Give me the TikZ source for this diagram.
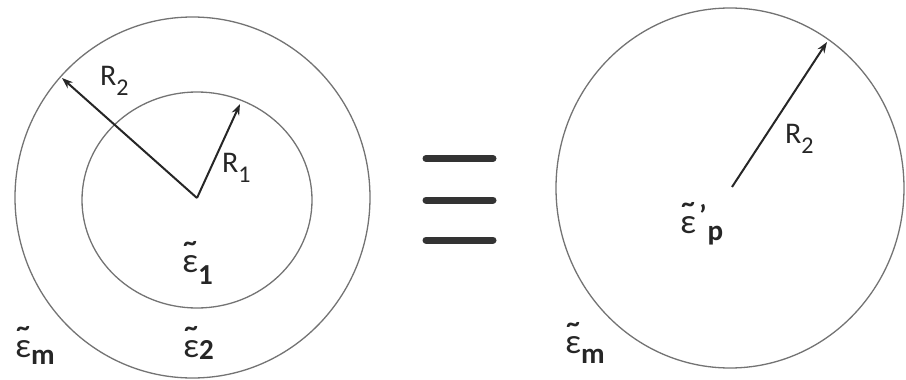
\documentclass[tikz,border=0pt]{standalone}
\usepackage{fontspec}
\setmainfont{Carlito}
\usetikzlibrary{arrows.meta}
\newcommand\teps{\ooalign{ε\cr\hidewidth\raisebox{21pt}{\fontsize{27}{27}\selectfont\bfseries\textasciitilde}\hidewidth\cr}}
\newcommand\epsub[2]{{\fontsize{35}{35}\selectfont\teps}\raisebox{-#2}{\fontsize{29}{29}\selectfont\bfseries #1}}
\newcommand\rlab[1]{{\fontsize{30}{30}\selectfont R}\raisebox{-10pt}{\fontsize{24}{24}\selectfont #1}}
\begin{document}
\begin{tikzpicture}[x=1pt,y=-1pt,
  circ/.style={draw=black!55,line width=1.3pt},
  arr/.style={draw=black!85,line width=2pt,-{Stealth[length=11pt,width=8pt]}},
  bar/.style={draw=black!80,line width=7pt,line cap=round},
  lab/.style={anchor=base west,inner sep=0pt,text=black!85}]
\useasboundingbox (0,0) rectangle (906,380);
% left figure
\draw[circ] (192.5,197.5) ellipse [x radius=177.5pt, y radius=180.5pt];
\draw[circ] (197,200) ellipse [x radius=115pt, y radius=108pt];
\coordinate (oL) at (197,198);
\coordinate (tR2) at (62,78);
\coordinate (tR1) at (240,104);
\draw[arr] (oL) -- (tR2);
\draw[arr] (oL) -- (tR1);
\node[lab] (lR2) at (100,85) {\rlab{2}};
\node[lab] (lR1) at (222,172) {\rlab{1}};
\node[lab] (le1) at (182,272) {\epsub{1}{12pt}};
\node[lab] (le2) at (183,357) {\epsub{2}{2pt}};
\node[lab] (lem) at (15,357) {\epsub{m}{7pt}};
% equivalence sign
\coordinate (b1l) at (426,158.5); \coordinate (b1r) at (493,158.5);
\coordinate (b2l) at (426,200);   \coordinate (b2r) at (493,200);
\coordinate (b3l) at (426,240);   \coordinate (b3r) at (493,240);
\draw[bar] (b1l) -- (b1r);
\draw[bar] (b2l) -- (b2r);
\draw[bar] (b3l) -- (b3r);
% right figure
\draw[circ] (730,188) ellipse [x radius=174pt, y radius=180pt];
\coordinate (oR) at (732,187);
\coordinate (tRR) at (827,42);
\draw[arr] (oR) -- (tRR);
\node[lab] (lRR) at (785,143) {\rlab{2}};
\node[lab] (lep) at (680,233) {{\fontsize{35}{35}\selectfont\teps}\kern3pt\raisebox{8pt}{\fontsize{29}{29}\selectfont\bfseries\char"27}\kern1pt\raisebox{-7pt}{\fontsize{29}{29}\selectfont\bfseries p}};
\node[lab] (lemR) at (565,353) {\epsub{m}{10pt}};
\end{tikzpicture}
\end{document}
